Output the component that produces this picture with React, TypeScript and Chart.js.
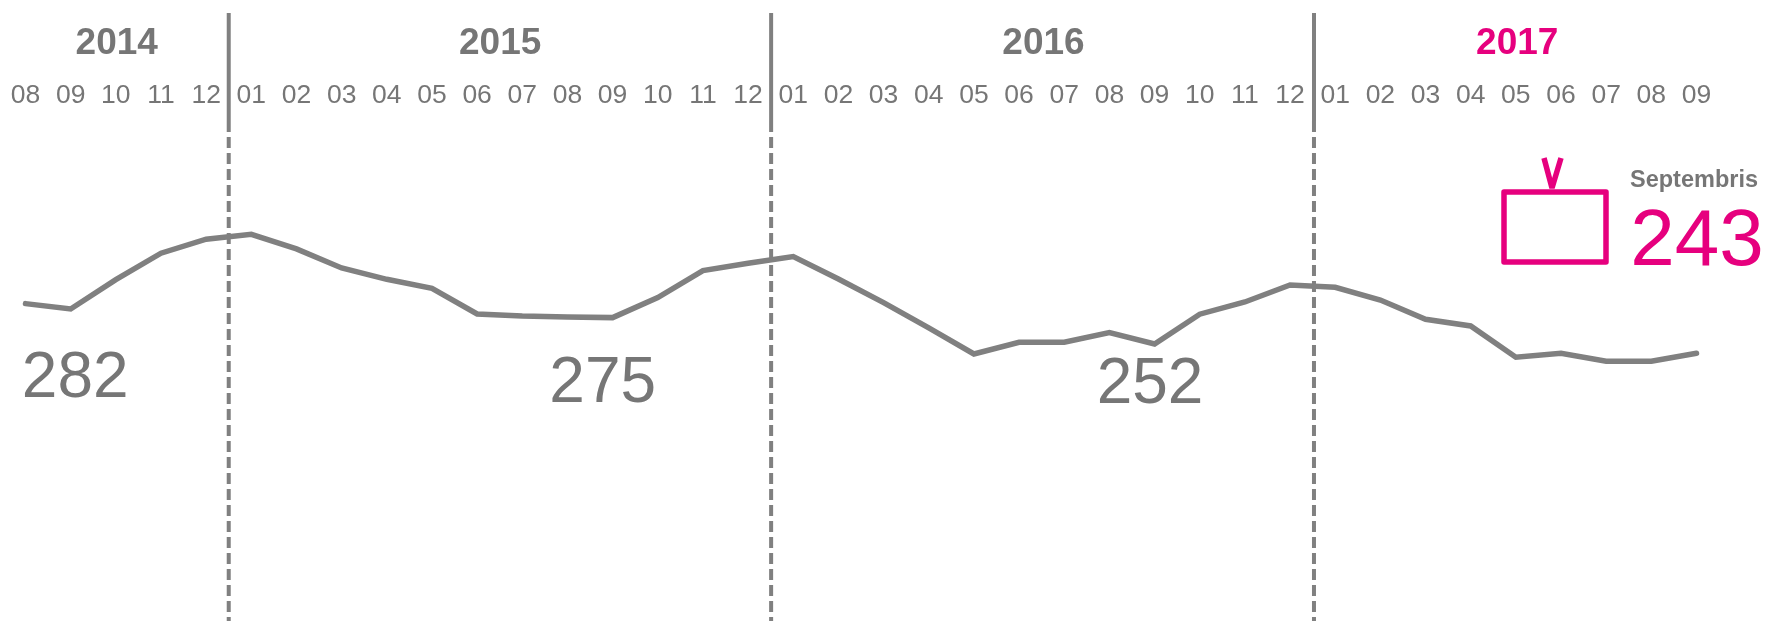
import React, { useEffect, useRef } from "react";
import { Chart, registerables } from "chart.js";

Chart.register(...registerables);

const months = ["08","09","10","11","12","01","02","03","04","05","06","07","08","09","10","11","12","01","02","03","04","05","06","07","08","09","10","11","12","01","02","03","04","05","06","07","08","09"];
const categories = months.map((m, i) => `${i}-${m}`);
const values = [256.5,251.3,279.7,305.4,319,323.8,309.6,291.1,280.1,271.4,246.5,244.5,243.5,242.9,262.3,288.5,295.7,302.1,280.4,257.4,232.9,207.6,219,219,228.3,217.3,246.2,258.1,274.6,272.4,260,241.3,234.8,204.4,208.3,200.5,200.5,208.3];
const yearLabels = ["2014","2015","2016","2017"];
const yearCentres = [2.02, 10.51, 22.54, 33.03];
const yearColours = ["#767676","#767676","#767676","#e6007e"];
const separators = [4.5, 16.51, 28.53];
const averages = ["282","275","252"];
const averagePos = [1.1, 12.78, 24.9];
const averageValues = [182.5, 178.5, 177.5];

const GREY = "#808080";
const TEXT = "#767676";
const PINK = "#e6007e";
const FONT = "'Liberation Sans', Arial, sans-serif";

const overlay = {
  id: "overlay",
  afterDatasetsDraw(chart: any) {
    const { ctx, scales } = chart;
    const xs = scales.x;
    const ys = scales.y;
    ctx.save();
    ctx.strokeStyle = GREY;
    ctx.lineWidth = 4;
    separators.forEach((s) => {
      const x = xs.getPixelForValue(s);
      ctx.setLineDash([]);
      ctx.beginPath();
      ctx.moveTo(x, 13);
      ctx.lineTo(x, 121);
      ctx.stroke();
      ctx.setLineDash([11, 5]);
      ctx.beginPath();
      ctx.moveTo(x, 121);
      ctx.lineTo(x, 621);
      ctx.stroke();
    });
    ctx.setLineDash([]);
    ctx.textAlign = "center";
    ctx.textBaseline = "middle";
    ctx.font = `bold 37px ${FONT}`;
    yearLabels.forEach((t, i) => {
      ctx.fillStyle = yearColours[i];
      ctx.fillText(t, xs.getPixelForValue(yearCentres[i]), 44);
    });
    ctx.font = `64px ${FONT}`;
    ctx.fillStyle = TEXT;
    averages.forEach((t, i) => {
      ctx.fillText(t, xs.getPixelForValue(averagePos[i]), ys.getPixelForValue(averageValues[i]));
    });
    ctx.font = `bold 23.5px ${FONT}`;
    ctx.fillStyle = TEXT;
    ctx.fillText("Septembris", 1694, 181);
    ctx.font = `80px ${FONT}`;
    ctx.fillStyle = PINK;
    ctx.fillText("243", 1697, 243);
    ctx.strokeStyle = PINK;
    ctx.lineWidth = 5.5;
    ctx.lineJoin = "round";
    ctx.strokeRect(1504, 192, 102, 70);
    ctx.lineJoin = "bevel";
    ctx.beginPath();
    ctx.moveTo(1544, 158);
    ctx.lineTo(1552, 188);
    ctx.lineTo(1561, 158);
    ctx.stroke();
    ctx.restore();
  },
};

export default function App() {
  const ref = useRef<HTMLCanvasElement>(null);
  useEffect(() => {
    const chart = new Chart(ref.current!, {
      type: "line",
      data: {
        labels: categories,
        datasets: [{
          data: values,
          borderColor: GREY,
          borderWidth: 5.5,
          pointRadius: 0,
          tension: 0,
          borderCapStyle: "round",
          borderJoinStyle: "miter",
          clip: false,
        }],
      },
      options: {
        animation: false,
        responsive: false,
        layout: { padding: { left: 25.5, right: 71.5, top: 0, bottom: 0 } },
        plugins: { legend: { display: false }, tooltip: { enabled: false } },
        scales: {
          x: {
            position: "top",
            offset: false,
            grid: { display: false, drawTicks: false },
            border: { display: false },
            ticks: {
              autoSkip: false,
              maxRotation: 0,
              minRotation: 0,
              padding: 0,
              color: TEXT,
              font: { family: FONT, size: 26.5 },
              callback: (_v: any, i: number) => months[i],
            },
            afterFit: (s: any) => { s.height = 112; },
          },
          y: { display: false, min: -51.6, max: 442.5 },
        },
      },
      plugins: [overlay],
    } as any);
    return () => chart.destroy();
  }, []);
  return (
    <canvas
      ref={ref}
      width={1768}
      height={621}
      style={{ position: "fixed", left: 0, top: 0, width: 1768, height: 621, background: "#fff" }}
    />
  );
}
